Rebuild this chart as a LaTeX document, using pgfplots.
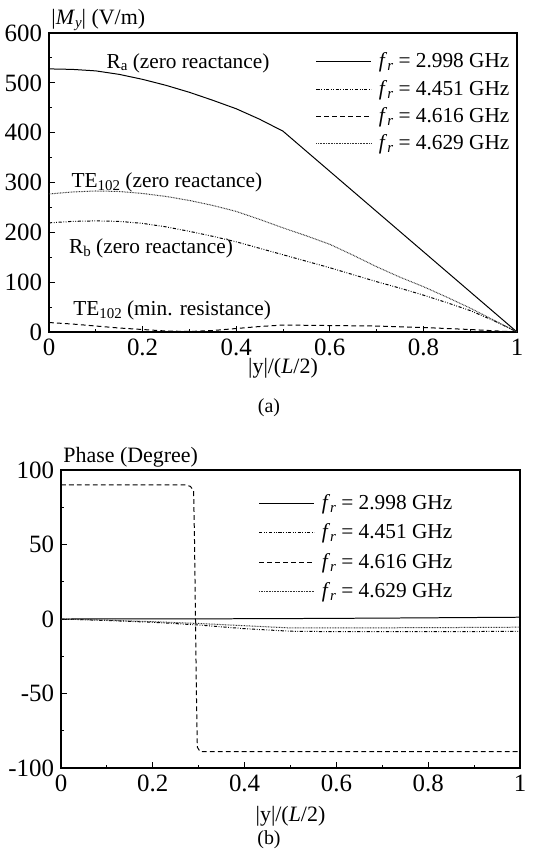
\documentclass[border=0pt]{standalone}
\usepackage{fontspec}
\setmainfont{Liberation Serif}
\usepackage{pgfplots}
\pgfplotsset{compat=1.18}

\newcommand{\sub}[1]{\raisebox{-0.3ex}{\fontsize{7.5}{8}\selectfont #1}}

\pgfplotsset{
  panel/.style={
    scale only axis,
    clip=false,
    axis line style={line width=0.6pt},
    tick style={black, line width=0.5pt},
    major tick length=2.8bp,
    minor tick length=1.6bp,
    tick pos=left,
    tick align=inside,
    xmin=0, xmax=1,
    xtick={0,0.2,...,1},
    minor x tick num=1,
    /pgf/number format/assume math mode=true,
    ticklabel style={font=\fontsize{12.5}{14}\selectfont},
    xlabel={\textbar y\textbar/(\textit{L}/2)},
    legend cell align=left,
    legend image code/.code={\draw[#1] (0bp,0bp) -- (27.5bp,0bp);
      \path (29bp,0bp);},
    every axis plot/.append style={black, line width=0.5pt},
  },
  f1/.style={solid},
  f2/.style={dash pattern=on 1.6pt off 0.8pt on 0.4pt off 0.8pt on 0.4pt off 0.8pt},
  f3/.style={dash pattern=on 2.4pt off 1.6pt},
  f4/.style={dash pattern=on 0.4pt off 0.4pt, black!80},
}

\begin{document}
\begin{tikzpicture}
\path[use as bounding box] (0,0) rectangle (269bp,-429.5bp);

% (a) magnitude
\begin{axis}[panel,
  at={(24.5bp,-166bp)}, anchor=south west,
  width=234bp, height=149.5bp,
  ymin=0, ymax=600, ytick={0,100,...,600}, minor y tick num=1,
  xlabel style={font=\fontsize{11}{12}\selectfont,
    at={(axis description cs:0.5,0)}, anchor=center, yshift=-18bp},
  legend style={draw=none, fill=none, at={(1.006,0.962)}, anchor=north east,
    font=\fontsize{10.7}{12.75}\selectfont, row sep=0.7bp},
]
\addplot[f1] coordinates {
  (0,528) (0.05,527) (0.1,524) (0.15,517) (0.2,507) (0.25,495) (0.3,481)
  (0.35,465) (0.4,448) (0.45,427) (0.5,403) (1,0)
};
\addlegendentry{\textit{f}\sub{\textit{r}} = 2.998 GHz}
\addplot[f2] coordinates {
  (0,219) (0.05,222) (0.1,223) (0.15,222) (0.2,218) (0.25,211) (0.3,202)
  (0.35,192) (0.4,181) (0.45,168) (0.5,155) (0.55,142) (0.6,129) (0.65,115)
  (0.7,101) (0.75,88) (0.8,74) (0.85,59) (0.9,43) (0.95,23) (1,0)
};
\addlegendentry{\textit{f}\sub{\textit{r}} = 4.451 GHz}
\addplot[f3] coordinates {
  (0,19) (0.05,16) (0.1,12) (0.15,8) (0.2,5) (0.25,2) (0.3,1) (0.35,3)
  (0.4,7) (0.45,11) (0.5,14) (0.6,13) (0.7,12) (0.8,9) (0.9,5) (1,0)
};
\addlegendentry{\textit{f}\sub{\textit{r}} = 4.616 GHz}
\addplot[f4] coordinates {
  (0,277) (0.05,281) (0.1,283) (0.15,282) (0.2,278) (0.25,272) (0.3,264)
  (0.35,254) (0.4,242) (0.45,226) (0.5,209) (0.55,193) (0.6,176) (0.65,154)
  (0.7,131) (0.75,110) (0.8,91) (0.85,70) (0.9,48) (0.95,24) (1,0)
};
\addlegendentry{\textit{f}\sub{\textit{r}} = 4.629 GHz}

\node[anchor=south west, inner sep=1bp, font=\fontsize{11}{12}\selectfont]
  at (rel axis cs:0,1) {\textbar\textit{M}\sub{\textit{y}}\textbar{} (V/m)};
\begin{scope}[every node/.style={font=\fontsize{10.7}{12}\selectfont}]
\node at (axis cs:0.297,540) {R\sub{a} (zero reactance)};
\node at (axis cs:0.252,301) {TE\sub{102} (zero reactance)};
\node at (axis cs:0.218,167) {R\sub{b} (zero reactance)};
\node at (axis cs:0.263,44) {TE\sub{102} (min. resistance)};
\end{scope}
\end{axis}

% (b) phase
\begin{axis}[panel,
  at={(30.5bp,-384bp)}, anchor=south west,
  width=229.5bp, height=149bp,
  ymin=-100, ymax=100, ytick={-100,-50,0,50,100}, minor y tick num=1,
  xlabel style={font=\fontsize{11}{12}\selectfont,
    at={(axis description cs:0.5,0)}, anchor=center, yshift=-24bp},
  legend style={draw=none, fill=none, at={(0.875,0.945)}, anchor=north east,
    font=\fontsize{10.7}{12.75}\selectfont, row sep=1.6bp},
]
\addplot[f1] coordinates {
  (0,0) (0.3,0.1) (0.5,0.3) (0.7,0.6) (1,1.2)
};
\addlegendentry{\textit{f}\sub{\textit{r}} = 2.998 GHz}
\addplot[f2] coordinates {
  (0,0) (0.1,-1) (0.2,-2.2) (0.3,-4) (0.4,-6.5) (0.5,-8.2) (0.6,-8.5)
  (0.8,-8.5) (1,-8.3)
};
\addlegendentry{\textit{f}\sub{\textit{r}} = 4.451 GHz}
\addplot[f3] coordinates {
  (0,90) (0.27,90) (0.282,89) (0.289,86) (0.291,50) (0.293,0) (0.295,-50)
  (0.297,-86) (0.303,-89) (1,-89)
};
\addlegendentry{\textit{f}\sub{\textit{r}} = 4.616 GHz}
\addplot[f4] coordinates {
  (0,0) (0.1,-0.8) (0.2,-1.8) (0.3,-3) (0.4,-4.5) (0.5,-6) (0.6,-6)
  (0.8,-5.8) (1,-5.5)
};
\addlegendentry{\textit{f}\sub{\textit{r}} = 4.629 GHz}

\node[anchor=south west, inner sep=1bp, font=\fontsize{11}{12}\selectfont]
  at (rel axis cs:0,1) {Phase (Degree)};
\end{axis}

\node[font=\fontsize{10}{12}\selectfont] at (134.5bp,-204bp) {(a)};
\node[font=\fontsize{10}{12}\selectfont] at (134.5bp,-420bp) {(b)};
\end{tikzpicture}
\end{document}
